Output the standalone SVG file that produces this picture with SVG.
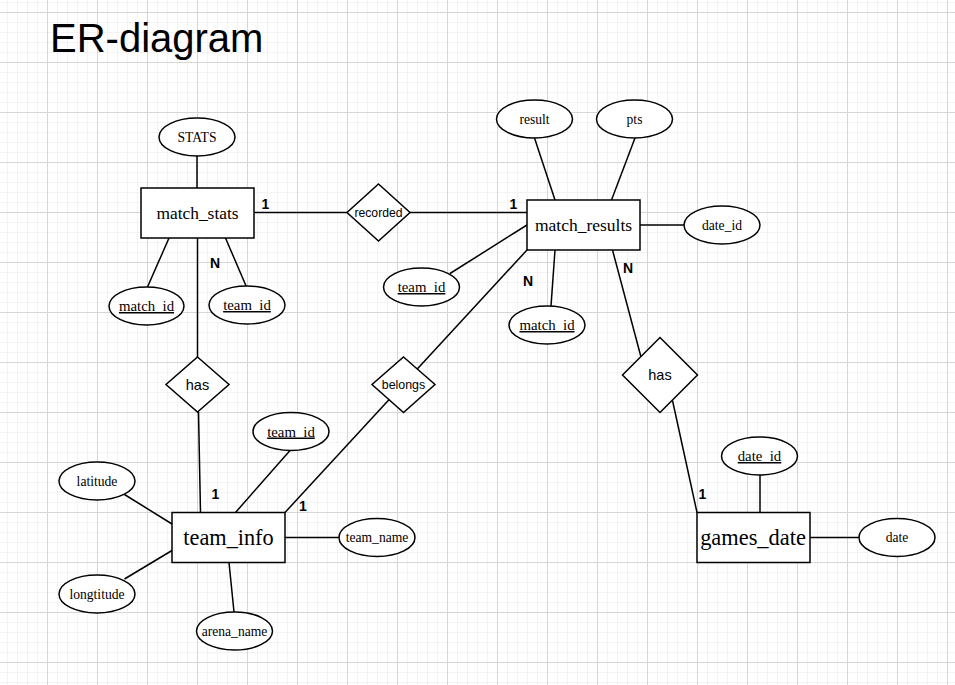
<svg xmlns="http://www.w3.org/2000/svg" width="955" height="685" viewBox="0 0 955 685">
<defs>
<pattern id="minor" patternUnits="userSpaceOnUse" x="-3" y="2" width="10" height="10">
<path d="M0.5 0 V10 M0 0.5 H10" stroke="#f3f3f3" stroke-width="1" fill="none"/>
</pattern>
<pattern id="major" patternUnits="userSpaceOnUse" x="-3" y="12" width="50" height="50">
<path d="M0.5 0 V50 M0 0.5 H50" stroke="#d6d6d6" stroke-width="1" fill="none"/>
</pattern>
</defs>
<style>
.ent{fill:#fff;stroke:#000;stroke-width:1.5}
.att{fill:#fff;stroke:#000;stroke-width:1.5}
.rel{fill:#fff;stroke:#000;stroke-width:1.5}
.ln{stroke:#000;stroke-width:1.5;fill:none}
.et{font-family:"Liberation Serif",serif;text-anchor:middle;fill:#000}
.at{font-family:"Liberation Serif",serif;font-size:13.6px;text-anchor:middle;fill:#000}
.key{font-family:"Liberation Serif",serif;font-size:14.8px;text-anchor:middle;fill:#000;text-decoration:underline}
.rt{font-family:"Liberation Sans",sans-serif;text-anchor:middle;fill:#000}
.card{font-family:"Liberation Sans",sans-serif;font-size:14px;font-weight:bold;text-anchor:middle;fill:#000}
</style>
<rect width="955" height="685" fill="#fff"/>
<rect width="955" height="685" fill="url(#minor)"/>
<rect width="955" height="685" fill="url(#major)"/>

<text x="50" y="52" font-family="Liberation Sans,sans-serif" font-size="40" fill="#000">ER-diagram</text>

<g id="connectors">
<line class="ln" x1="197" y1="156" x2="197" y2="188"/>
<line class="ln" x1="169" y1="238" x2="147.5" y2="287"/>
<line class="ln" x1="225.5" y1="238" x2="246.5" y2="287"/>
<line class="ln" x1="197.5" y1="238" x2="197.5" y2="357"/>
<line class="ln" x1="254" y1="212.5" x2="347" y2="212.5"/>
<line class="ln" x1="410" y1="212.5" x2="527" y2="212.5"/>
<line class="ln" x1="534.5" y1="138" x2="555" y2="200"/>
<line class="ln" x1="635" y1="138" x2="611.5" y2="200"/>
<line class="ln" x1="640" y1="225" x2="684" y2="225"/>
<line class="ln" x1="527" y1="225" x2="450" y2="273.5"/>
<line class="ln" x1="555" y1="250" x2="551" y2="306"/>
<line class="ln" x1="527" y1="250" x2="285" y2="512.5"/>
<line class="ln" x1="612.5" y1="250" x2="641" y2="357"/>
<line class="ln" x1="672.5" y1="400.5" x2="697" y2="512.5"/>
<line class="ln" x1="198.5" y1="412" x2="200.5" y2="512.5"/>
<line class="ln" x1="290" y1="450.5" x2="235.5" y2="512.5"/>
<line class="ln" x1="124.5" y1="494.5" x2="172" y2="524" stroke-width="2.5"/>
<line class="ln" x1="124.5" y1="579" x2="172" y2="550.5"/>
<line class="ln" x1="229" y1="562.5" x2="234" y2="612"/>
<line class="ln" x1="285" y1="537.5" x2="339" y2="537.5"/>
<line class="ln" x1="760" y1="475" x2="760" y2="512.5"/>
<line class="ln" x1="810" y1="537.5" x2="859" y2="537.5"/>
<text class="card" x="265.5" y="209">1</text>
<text class="card" x="215" y="268">N</text>
<text class="card" x="513.5" y="209">1</text>
<text class="card" x="528" y="286">N</text>
<text class="card" x="628" y="273">N</text>
<text class="card" x="215.5" y="499">1</text>
<text class="card" x="303" y="511">1</text>
<text class="card" x="702.5" y="499">1</text>
</g>

<g id="match_stats">
<rect class="ent" x="141" y="188" width="113" height="50"/>
<text class="et" x="197.5" y="219" font-size="17.4">match_stats</text>
</g>
<g id="stats_attr">
<ellipse class="att" cx="197" cy="137" rx="38" ry="19"/>
<text class="at" x="197" y="141.5" font-size="13">STATS</text>
</g>
<g id="ms_match_id">
<ellipse class="att" cx="146.5" cy="306" rx="37.5" ry="19"/>
<text class="key" x="146.5" y="311">match_id</text>
</g>
<g id="ms_team_id">
<ellipse class="att" cx="247" cy="305" rx="38" ry="19"/>
<text class="key" x="247" y="310">team_id</text>
</g>

<g id="recorded">
<polygon class="rel" points="378.5,184 410,212.5 378.5,241 347,212.5"/>
<text class="rt" x="378.5" y="217" font-size="12.2">recorded</text>
</g>

<g id="match_results">
<rect class="ent" x="527" y="200" width="113" height="50"/>
<text class="et" x="583.5" y="231" font-size="17.5">match_results</text>
</g>
<g id="mr_result">
<ellipse class="att" cx="534.5" cy="119" rx="38" ry="19"/>
<text class="at" x="534.5" y="123.5">result</text>
</g>
<g id="mr_pts">
<ellipse class="att" cx="634.5" cy="119" rx="38" ry="19"/>
<text class="at" x="634.5" y="123.5">pts</text>
</g>
<g id="mr_date_id">
<ellipse class="att" cx="722" cy="225" rx="38" ry="19"/>
<text class="at" x="722" y="229.5">date_id</text>
</g>
<g id="mr_team_id">
<ellipse class="att" cx="421.5" cy="287" rx="38" ry="19"/>
<text class="key" x="421.5" y="292">team_id</text>
</g>
<g id="mr_match_id">
<ellipse class="att" cx="547" cy="325" rx="38" ry="19"/>
<text class="key" x="547" y="330">match_id</text>
</g>

<g id="has_left">
<polygon class="rel" points="197.5,357 229,384.5 197.5,412 166,384.5"/>
<text class="rt" x="197.5" y="389.5" font-size="14.5">has</text>
</g>

<g id="belongs">
<polygon class="rel" points="403.5,357 435,384.5 403.5,412.5 372,384.5"/>
<text class="rt" x="403.5" y="389" font-size="12.4">belongs</text>
</g>

<g id="has_right">
<polygon class="rel" points="660,337.5 697.5,375 660,412.5 622.5,375"/>
<text class="rt" x="660" y="380" font-size="14.5">has</text>
</g>

<g id="team_info">
<rect class="ent" x="172" y="512.5" width="113" height="50"/>
<text class="et" x="228.5" y="545" font-size="22.3">team_info</text>
</g>
<g id="ti_team_id">
<ellipse class="att" cx="291" cy="431.5" rx="38" ry="19"/>
<text class="key" x="291" y="436.5">team_id</text>
</g>
<g id="ti_latitude">
<ellipse class="att" cx="97" cy="481" rx="38" ry="19"/>
<text class="at" x="97" y="485.5">latitude</text>
</g>
<g id="ti_longtitude">
<ellipse class="att" cx="97" cy="594" rx="38" ry="19"/>
<text class="at" x="97" y="598.5">longtitude</text>
</g>
<g id="ti_arena_name">
<ellipse class="att" cx="234.5" cy="631" rx="38" ry="19"/>
<text class="at" x="234.5" y="635.5">arena_name</text>
</g>
<g id="ti_team_name">
<ellipse class="att" cx="377" cy="537.5" rx="38" ry="19"/>
<text class="at" x="377" y="542">team_name</text>
</g>

<g id="games_date">
<rect class="ent" x="697" y="512.5" width="113" height="50"/>
<text class="et" x="753" y="545" font-size="22.4">games_date</text>
</g>
<g id="gd_date_id">
<ellipse class="att" cx="759.5" cy="456" rx="38" ry="19"/>
<text class="key" x="759.5" y="461">date_id</text>
</g>
<g id="gd_date">
<ellipse class="att" cx="897" cy="537.5" rx="38" ry="19"/>
<text class="at" x="897" y="542" font-size="13">date</text>
</g>
</svg>
